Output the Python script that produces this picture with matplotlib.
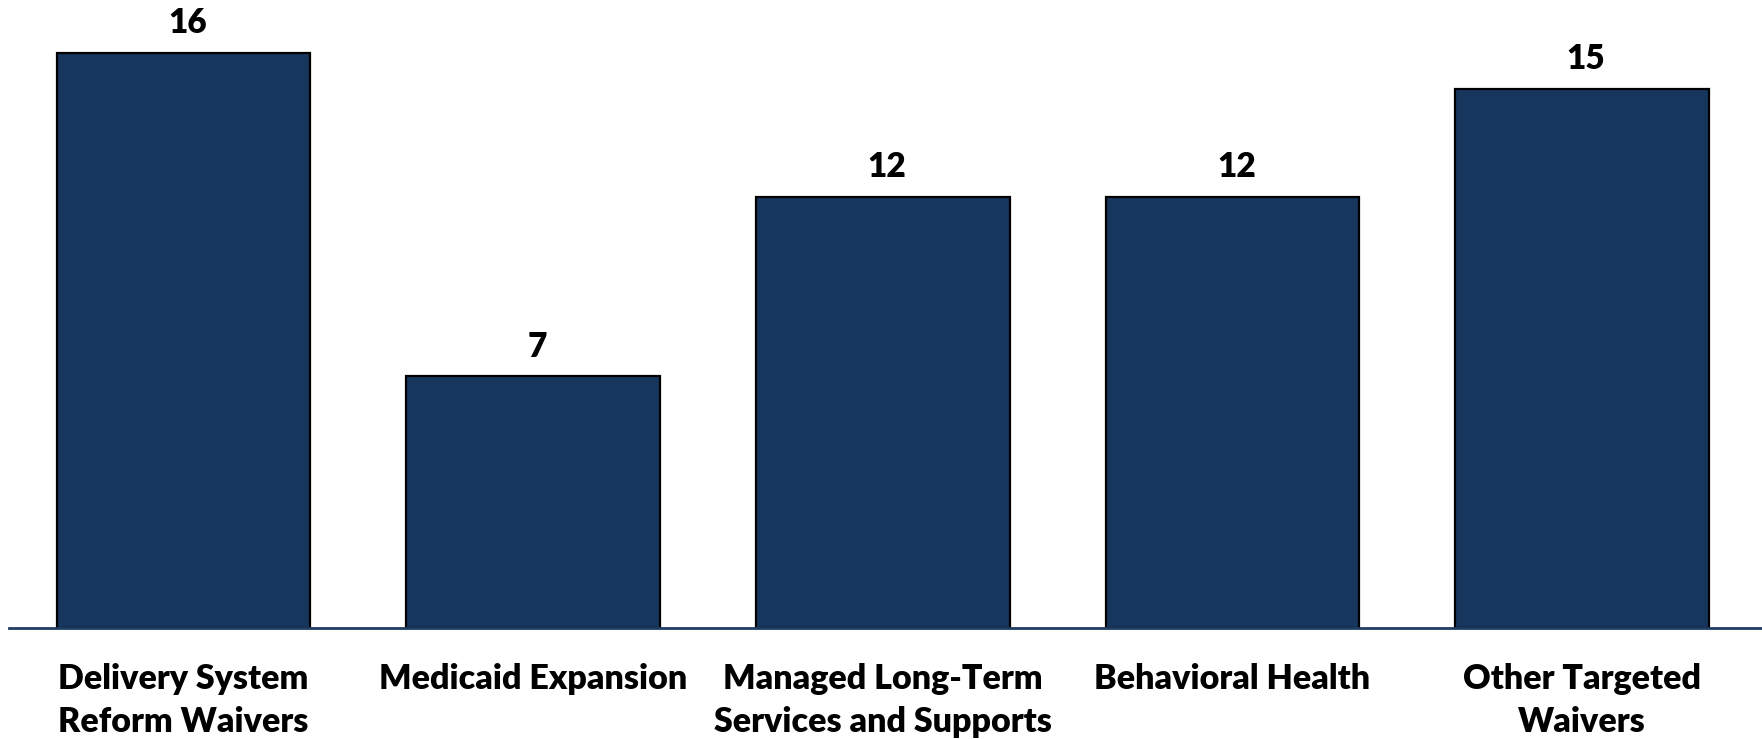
import matplotlib.pyplot as plt

# Number of waivers by type
categories = ['Delivery System\nReform Waivers', 'Medicaid Expansion',
              'Managed Long-Term\nServices and Supports', 'Behavioral Health',
              'Other Targeted\nWaivers']
counts = [16, 7, 12, 12, 15]

plt.rcParams['font.family'] = ['Lato', 'DejaVu Sans']

fig = plt.figure(figsize=(17.62, 7.39), dpi=100)
ax = fig.add_axes([0.005, 0.150, 0.995, 0.850])

x = range(len(categories))
bars = ax.bar(x, counts, width=0.725, color='#17365D',
              edgecolor='black', linewidth=1.6, zorder=2)

# Value labels above each bar
for rect, val in zip(bars, counts):
    ax.annotate(str(val), (rect.get_x() + rect.get_width() / 2, rect.get_height()),
                xytext=(3, 14), textcoords='offset points',
                ha='center', va='baseline', fontsize=24, fontweight='heavy')

ax.set_xlim(-0.5, 4.515)
ax.set_ylim(0, 17.47)
ax.set_xticks(list(x))
ax.set_xticklabels(categories, fontsize=24.5, fontweight='heavy', linespacing=1.42)
ax.tick_params(axis='x', length=0, pad=25)
ax.set_yticks([])

for side in ['top', 'right', 'left']:
    ax.spines[side].set_visible(False)
ax.spines['bottom'].set_color('#1F3D63')
ax.spines['bottom'].set_linewidth(2)

fig.savefig('out.png', dpi=100)
